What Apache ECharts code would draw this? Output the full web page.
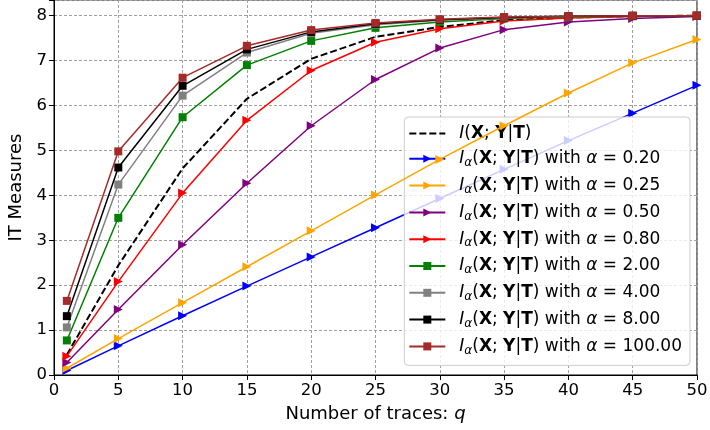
<!DOCTYPE html>
<html><head><meta charset="utf-8">
<script src="https://cdn.jsdelivr.net/npm/echarts@6/dist/echarts.min.js"></script>
<style>html,body{margin:0;padding:0;background:#fff}#c{width:710px;height:430px}</style>
</head><body><div id="c"></div>
<script>
const traces = [1,5,10,15,20,25,30,35,40,45,50];
const xTicks = [0,5,10,15,20,25,30,35,40,45,50];
const yTicks = [0,1,2,3,4,5,6,7,8];
const alphaLabels = ['0.20','0.25','0.50','0.80','2.00','4.00','8.00','100.00'];
const miVals  = [0.45,2.44,4.60,6.15,7.04,7.53,7.75,7.90,7.96,7.99,8.0];
const a020 = [0.10,0.65,1.32,1.98,2.63,3.28,3.93,4.58,5.22,5.83,6.45];
const a025 = [0.15,0.81,1.61,2.41,3.21,4.01,4.80,5.55,6.28,6.95,7.47];
const a050 = [0.28,1.46,2.90,4.27,5.55,6.58,7.28,7.69,7.86,7.94,7.98];
const a080 = [0.42,2.08,4.05,5.67,6.78,7.41,7.71,7.88,7.95,7.98,8.00];
const a2   = [0.77,3.50,5.74,6.90,7.44,7.73,7.86,7.94,7.97,7.99,8.00];
const a4   = [1.06,4.24,6.22,7.18,7.61,7.80,7.90,7.95,7.98,7.99,8.00];
const a8   = [1.31,4.62,6.44,7.25,7.64,7.82,7.91,7.96,7.99,8.00,8.00];
const a100 = [1.65,4.98,6.62,7.33,7.68,7.84,7.92,7.97,7.99,8.00,8.00];

const alphaSeries = [a020,a025,a050,a080,a2,a4,a8,a100];
const colors = ['#0000ff','#ffa500','#800080','#ff0000','#008000','#808080','#000000','#a52a2a'];
const FONT = 'DejaVu Sans';

function pairs(v){ return traces.map((x,i)=>[x,v[i]]); }

const series = [{
  name: 'MI', type: 'line', data: pairs(miVals), symbol: 'none',
  lineStyle: {color:'#000', width: 2, type: [7,3]}, itemStyle:{color:'#000'}, z: 2
}];
alphaSeries.forEach((v,k)=>{
  const tri = k < 4;
  series.push({
    name: 'a'+alphaLabels[k], type: 'line', data: pairs(v),
    symbol: tri ? 'triangle' : 'rect', symbolSize: tri ? [9,9] : 8,
    symbolRotate: tri ? -90 : 0, showAllSymbol: true,
    lineStyle: {color: colors[k], width: 1.5}, itemStyle: {color: colors[k]}, z: 3+k
  });
});

function legendFmt(name){
  if (name === 'MI') return '{i|I}{n|(}{b|X}{n|; }{b|Y}{n||}{b|T}{n|)}';
  const a = name.slice(1);
  return '{i|I}{s|α}{n|(}{b|X}{n|; }{b|Y}{n||}{b|T}{n|) with }{i|α}{n| = ' + a + '}';
}
const FS = 17, TFS = 16.5, NFS = 18;
const txt = {fontFamily: FONT, fontSize: FS, color:'#000', lineHeight: 20, verticalAlign:'middle'};

const legendData = series.map(s => s.name === 'MI' ? {name:'MI', itemStyle:{opacity:0}} : {name: s.name});

const option = {
  animation: false,
  backgroundColor: '#fff',
  textStyle: {fontFamily: FONT},
  grid: {left: 54, right: 13, top: 0, bottom: 55, show: true, borderColor: '#000', borderWidth: 1,
         containLabel: false, outerBoundsMode: 'none'},
  xAxis: {
    type: 'value', min: 0, max: 50, interval: 5,
    name: '{n|Number of traces: }{q|q}', nameLocation: 'middle', nameGap: 30,
    nameTextStyle: {rich: {n:{fontFamily:FONT,fontSize:NFS,color:'#000'}, q:{fontFamily:FONT,fontSize:NFS,fontStyle:'italic',color:'#000'}}},
    axisLine: {lineStyle:{color:'#000'}},
    axisTick: {inside:false, length:5, lineStyle:{color:'#000'}},
    axisLabel: {fontFamily: FONT, fontSize: TFS, color:'#000', margin: 7,
      formatter: v => xTicks.includes(v) ? String(v) : ''},
    splitLine: {show:true, lineStyle:{color:'#a0a0a0', type:[3,2], width:1}}
  },
  yAxis: {
    type: 'value', min: 0, max: 8.35, interval: 1,
    name: 'IT Measures', nameLocation: 'middle', nameGap: 25,
    nameTextStyle: {fontFamily: FONT, fontSize: NFS, color:'#000'},
    axisLine: {show:true, lineStyle:{color:'#000'}},
    axisTick: {show:true, inside:false, length:5, lineStyle:{color:'#000'}},
    axisLabel: {fontFamily: FONT, fontSize: TFS, color:'#000', margin: 7,
      formatter: v => yTicks.includes(v) ? String(v) : ''},
    splitLine: {show:true, lineStyle:{color:'#a0a0a0', type:[3,2], width:1}}
  },
  legend: {
    orient: 'vertical', right: 20, top: 117, width: 282,
    backgroundColor: 'rgba(255,255,255,0.8)', borderColor: '#cccccc', borderWidth: 1, borderRadius: 4,
    padding: [8, 8, 9, 4], itemGap: 8.3, itemWidth: 36, itemHeight: 10,
    symbolRotate: 'inherit',
    data: legendData,
    formatter: legendFmt,
    textStyle: {
      fontFamily: FONT, fontSize: FS, color:'#000', padding:[0,0,0,9],
      rich: {
        n: txt,
        i: Object.assign({}, txt, {fontStyle:'italic'}),
        b: Object.assign({}, txt, {fontWeight:'bold'}),
        s: {fontFamily: FONT, fontSize: 12, fontStyle:'italic', color:'#000', lineHeight: 10, verticalAlign:'bottom'}
      }
    }
  },
  series: series
};
const chart = echarts.init(document.getElementById('c'), null, {renderer:'canvas'});
chart.setOption(option);
</script></body></html>
